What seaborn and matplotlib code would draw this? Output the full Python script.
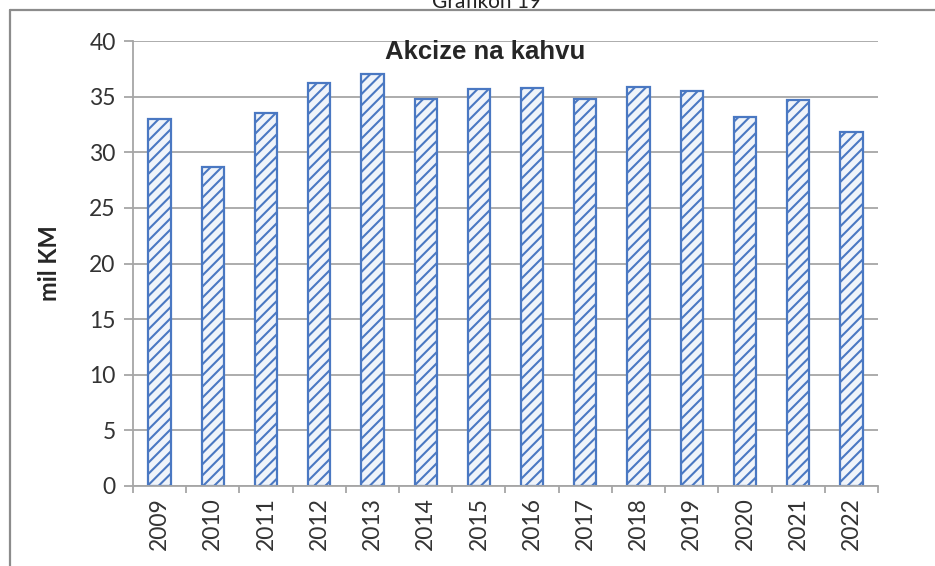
import matplotlib
matplotlib.use("Agg")
import matplotlib.pyplot as plt
import seaborn as sns
import numpy as np
from matplotlib.lines import Line2D

# podaci - akcize na kahvu (mil KM)
godine = ['2009', '2010', '2011', '2012', '2013', '2014', '2015',
          '2016', '2017', '2018', '2019', '2020', '2021', '2022']
akcize = [33.0, 28.7, 33.5, 36.2, 37.0, 34.8, 35.7,
          35.8, 34.8, 35.9, 35.5, 33.2, 34.7, 31.8]
y_ticks = [0, 5, 10, 15, 20, 25, 30, 35, 40]

sns.set_style('white')
plt.rcParams['font.family'] = ['Lato', 'DejaVu Sans']
plt.rcParams['hatch.linewidth'] = 1.5

plava = '#4a78c2'
siva = '#a6a6a6'

fig = plt.figure(figsize=(9.35, 5.66), dpi=100)
ax = fig.add_axes([133/935, 1-486/566, (878-133)/935, (486-41)/566])

sns.barplot(x=godine, y=akcize, ax=ax, color='#eef4fc', width=0.42,
            edgecolor=plava, linewidth=1.6)
for p in ax.patches:
    p.set_hatch('///')

ax.set_ylim(0, 40)
ax.set_xlim(-0.5, len(godine) - 0.5)
ax.set_yticks(y_ticks)
ax.yaxis.grid(True, color=siva, linewidth=1.3)
ax.set_axisbelow(True)

for s in ['top', 'right']:
    ax.spines[s].set_visible(False)
for s in ['left', 'bottom']:
    ax.spines[s].set_color(siva)
    ax.spines[s].set_linewidth(1.3)

ax.tick_params(axis='y', which='major', length=6.5, color=siva, width=1.3,
               labelsize=16.5, pad=6, direction='out', left=True,
               labelcolor='#333333')
ax.set_xticks(np.arange(-0.5, len(godine), 1.0), minor=True)
ax.tick_params(axis='x', which='minor', length=5, color=siva, width=1.3,
               direction='out', bottom=True)
ax.tick_params(axis='x', which='major', length=0, labelsize=16.5, pad=8,
               labelrotation=90, labelcolor='#333333')
ax.set_xlabel('')
ax.set_ylabel('mil KM', fontsize=17, fontweight='bold', labelpad=20)

fig.text(485/935, 1-52/566, 'Akcize na kahvu', ha='center', va='center',
         fontsize=18.5, fontweight='bold',
         family=['Liberation Sans', 'DejaVu Sans'])
fig.text(487/935, 1-8/566, 'Grafikon 19', ha='center', va='baseline',
         fontsize=15, color='#222222')

# okvir slike
fig.add_artist(Line2D([10/935, 10/935], [0, 1-10/566], color='#8c8c8c', lw=1.6))
fig.add_artist(Line2D([10/935, 1], [1-10/566, 1-10/566], color='#8c8c8c', lw=1.6))

fig.savefig('out.png', dpi=100)
